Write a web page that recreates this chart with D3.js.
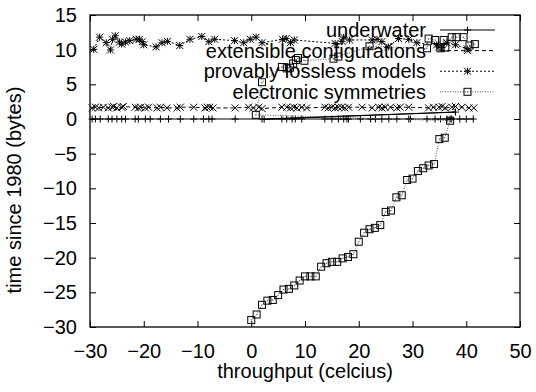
<!DOCTYPE html>
<html>
<head>
<meta charset="utf-8">
<script src="https://cdn.jsdelivr.net/npm/d3@7/dist/d3.min.js"></script>
<style>
  html, body { margin: 0; padding: 0; background: #fff; }
  svg { display: block; }
  text { font-family: "Liberation Sans", Arial, sans-serif; fill: #000; }
</style>
</head>
<body>
<svg id="chart" width="536" height="392"></svg>
<script>
// ---------- data ----------
const seriesNames = ["underwater", "extensible configurations", "provably lossless models", "electronic symmetries"];

const xTicks = [-30, -20, -10, 0, 10, 20, 30, 40, 50];
const yTicks = [-30, -25, -20, -15, -10, -5, 0, 5, 10, 15];

const underwaterX = [-29.6, -29.0, -28.1, -26.6, -25.9, -25.0, -24.1, -23.4, -21.6, -21.0, -19.7, -18.8, -16.9, -15.4, -13.2, -10.7, -8.9, -7.9, -7.3, -3.0, 2.0, 38.0, 2.4, 5.7, 6.6, 7.6, 8.2, 9.4, 13.7, 15.0, 16.2, 17.2, 17.8, 18.1, 20.3, 22.2, 23.1, 24.3, 25.6, 27.1, 29.3, 29.6, 32.7, 34.2, 35.2, 36.4, 37.0, 37.3, 38.8, 40.0, 41.3];
const underwaterY = [0.0, 0.0, 0.0, 0.0, 0.0, 0.0, 0.0, 0.0, 0.0, 0.0, 0.0, 0.0, 0.0, 0.0, 0.0, 0.0, 0.0, 0.0, 0.0, 0.0, 0.0, 1.0, -0.05, 0.0, 0.0, 0.0, 0.0, 0.0, 0.0, 0.0, 0.0, 0.0, 0.0, 0.0, 0.0, 0.0, 0.0, 0.0, 0.0, 0.0, 0.0, 0.0, 0.0, 0.0, 0.0, 0.0, 0.0, 0.0, 0.0, 0.0, 0.0];

const extensibleX = [-29.6, -29.0, -28.4, -27.5, -26.6, -25.9, -25.6, -25.0, -24.1, -23.8, -21.6, -21.0, -20.6, -19.7, -19.1, -17.5, -16.9, -15.7, -13.8, -13.2, -10.7, -8.6, -8.2, -7.7, -7.1, -3.0, -0.5, 0.4, 1.4, 2.0, 5.7, 6.6, 7.3, 7.9, 8.5, 9.4, 10.3, 13.7, 14.3, 15.0, 15.6, 16.2, 16.8, 17.4, 18.1, 20.6, 22.5, 23.7, 24.3, 24.9, 25.9, 27.1, 27.7, 29.3, 33.0, 33.9, 34.9, 35.5, 36.1, 37.3, 38.0, 39.2, 40.5, 41.4];
const extensibleY = [1.6, 1.7, 1.6, 1.7, 1.6, 1.7, 1.8, 1.6, 1.7, 1.8, 1.7, 1.6, 1.7, 1.6, 1.7, 1.6, 1.7, 1.6, 1.6, 1.7, 1.7, 1.6, 1.7, 1.7, 1.6, 1.6, 1.7, 1.6, 1.7, 1.5, 1.7, 1.7, 1.6, 1.7, 1.6, 1.7, 1.6, 1.7, 1.6, 1.7, 1.6, 1.7, 1.7, 1.6, 1.7, 1.7, 1.6, 1.7, 1.6, 1.7, 1.7, 1.6, 1.7, 1.7, 1.6, 1.7, 1.7, 1.8, 1.6, 1.7, 1.8, 1.7, 1.6, 1.6];

const losslessX = [-29.3, -28.2, -27.0, -26.2, -25.8, -25.3, -24.5, -24.1, -23.4, -22.6, -21.4, -20.8, -20.3, -20.0, -17.7, -16.6, -15.6, -13.3, -11.4, -9.2, -7.9, -6.8, -3.1, -1.4, -0.2, 0.9, 2.0, 5.8, 6.5, 7.3, 8.0, 15.6, 16.9, 17.2, 18.3, 22.5, 23.4, 24.3, 25.5, 27.4, 29.3, 30.8, 34.5, 34.9, 35.5, 36.4, 38.0, 40.2];
const losslessY = [10.05, 11.8, 11.0, 9.95, 11.5, 12.0, 11.1, 10.8, 11.1, 11.3, 11.5, 11.5, 11.15, 10.7, 10.4, 11.0, 11.2, 10.6, 11.5, 11.9, 11.15, 11.5, 11.3, 11.0, 11.5, 11.8, 11.0, 11.5, 11.6, 11.0, 11.4, 10.9, 11.2, 11.8, 11.4, 11.4, 11.5, 11.15, 10.4, 11.6, 11.5, 11.0, 10.7, 10.4, 10.3, 11.0, 10.7, 10.1];

const electronicX = [0, 1, 2, 3, 4, 5, 6, 7, 8, 9, 10, 11, 12, 13, 14, 15, 16, 17, 18, 19, 20, 21, 22, 23, 24, 25, 26, 27, 28, 29, 30, 31, 32, 33, 34, 35, 36, 37,
  0.85, 2.0, 5.7, 6.6, 7.2, 7.8, 8.3, 8.7, 9.9, 15.3, 16.2, 22.0, 32.7, 33.0, 34.2, 35.2, 35.8, 36.1, 37.3, 38.2, 39.5, 40.6, 41.6];
const electronicY = [-29.0, -28.2, -26.8, -26.2, -26.1, -25.4, -24.6, -24.5, -24.0, -23.3, -22.7, -22.7, -22.7, -21.3, -20.8, -20.6, -20.6, -20.1, -19.9, -19.5, -17.7, -16.4, -15.9, -15.7, -15.3, -13.4, -13.2, -11.3, -11.0, -8.8, -8.6, -7.5, -7.1, -6.7, -6.5, -2.9, -2.7, -0.25,
  0.6, 5.3, 7.5, 7.3, 7.4, 8.0, 8.5, 8.8, 8.4, 8.7, 9.0, 10.5, 10.2, 11.6, 11.4, 10.2, 11.4, 10.3, 11.8, 11.8, 11.8, 10.6, 10.8];

// ---------- layout ----------
const svg = d3.select("#chart");
const L = 90, R = 520, T = 15, B = 327;
const FS = 20;
const x = d3.scaleLinear().domain([-30, 50]).range([L, R]);
const y = d3.scaleLinear().domain([-30, 15]).range([B, T]);

const zip = (xs, ys) => xs.map((v, i) => [v, ys[i]]);

const series = [
  { name: seriesNames[0], pts: zip(underwaterX, underwaterY), dash: null, marker: "plus", stroke: "#000" },
  { name: seriesNames[1], pts: zip(extensibleX, extensibleY), dash: "4,3", marker: "cross", stroke: "#000" },
  { name: seriesNames[2], pts: zip(losslessX, losslessY), dash: "2,2", marker: "star", stroke: "#000" },
  { name: seriesNames[3], pts: zip(electronicX, electronicY), dash: "1,1.5", marker: "square", stroke: "#555" }
];

// axes (ticks inside, mirrored)
const tickLen = 6;
const axB = svg.append("g").attr("transform", `translate(0,${B})`)
  .call(d3.axisBottom(x).tickValues(xTicks).tickSize(-tickLen).tickPadding(16).tickFormat(d3.format("d")));
const axT = svg.append("g").attr("transform", `translate(0,${T})`)
  .call(d3.axisTop(x).tickValues(xTicks).tickSize(-tickLen).tickFormat(""));
const axL = svg.append("g").attr("transform", `translate(${L},0)`)
  .call(d3.axisLeft(y).tickValues(yTicks).tickSize(-tickLen).tickPadding(13).tickFormat(d3.format("d")));
const axR = svg.append("g").attr("transform", `translate(${R},0)`)
  .call(d3.axisRight(y).tickValues(yTicks).tickSize(-tickLen).tickFormat(""));
[axB, axT, axL, axR].forEach(g => {
  g.select(".domain").remove();
  g.selectAll("line").attr("stroke", "#000").attr("stroke-width", 1);
  g.selectAll("text").style("font-size", FS + "px").style("font-family", '"Liberation Sans", Arial, sans-serif').attr("fill", "#000");
});
axB.selectAll("text").attr("dy", "0.75em");

// frame
svg.append("rect").attr("x", L).attr("y", T).attr("width", R - L).attr("height", B - T)
  .attr("fill", "none").attr("stroke", "#000").attr("stroke-width", 1.3);

// axis titles
svg.append("text").attr("x", (L + R) / 2).attr("y", 378).attr("text-anchor", "middle")
  .style("font-size", FS + "px").text("throughput (celcius)");
svg.append("text").attr("transform", "translate(21,190) rotate(-90)").attr("text-anchor", "middle")
  .style("font-size", FS + "px").text("time since 1980 (bytes)");

// markers
function drawMarker(g, type, cx, cy, color) {
  const s = 3.5;
  const p = d3.path();
  if (type === "plus" || type === "star") {
    p.moveTo(cx - s, cy); p.lineTo(cx + s, cy);
    p.moveTo(cx, cy - s); p.lineTo(cx, cy + s);
  }
  if (type === "cross" || type === "star") {
    p.moveTo(cx - s, cy - s); p.lineTo(cx + s, cy + s);
    p.moveTo(cx - s, cy + s); p.lineTo(cx + s, cy - s);
  }
  if (type === "square") {
    g.append("rect").attr("x", cx - s).attr("y", cy - s).attr("width", 2 * s).attr("height", 2 * s)
      .attr("fill", "none").attr("stroke", "#000").attr("stroke-width", 1);
    g.append("rect").attr("x", cx - 0.5).attr("y", cy - 0.5).attr("width", 1).attr("height", 1).attr("fill", "#555");
    return;
  }
  g.append("path").attr("d", p.toString()).attr("stroke", color).attr("stroke-width", 1).attr("fill", "none");
}

const line = d3.line().x(d => x(d[0])).y(d => y(d[1]));
const plot = svg.append("g");
series.forEach(s => {
  const g = plot.append("g");
  g.append("path").attr("d", line(s.pts)).attr("fill", "none").attr("stroke", s.stroke)
    .attr("stroke-width", 1).attr("stroke-dasharray", s.dash);
  s.pts.forEach(p => drawMarker(g, s.marker, x(p[0]), y(p[1]), "#000"));
});

// legend
const legX = 426, legY0 = 30, legDY = 20.6, sampleX1 = 440, sampleX2 = 495;
series.forEach((s, i) => {
  const ly = legY0 + i * legDY;
  const g = svg.append("g");
  g.append("text").attr("x", legX).attr("y", ly).attr("dy", "0.35em").attr("text-anchor", "end")
    .style("font-size", FS + "px").text(s.name);
  g.append("line").attr("x1", sampleX1).attr("x2", sampleX2).attr("y1", ly).attr("y2", ly)
    .attr("stroke", s.stroke).attr("stroke-width", 1).attr("stroke-dasharray", s.dash);
  drawMarker(g, s.marker, (sampleX1 + sampleX2) / 2, ly, "#000");
});
</script>
</body>
</html>
